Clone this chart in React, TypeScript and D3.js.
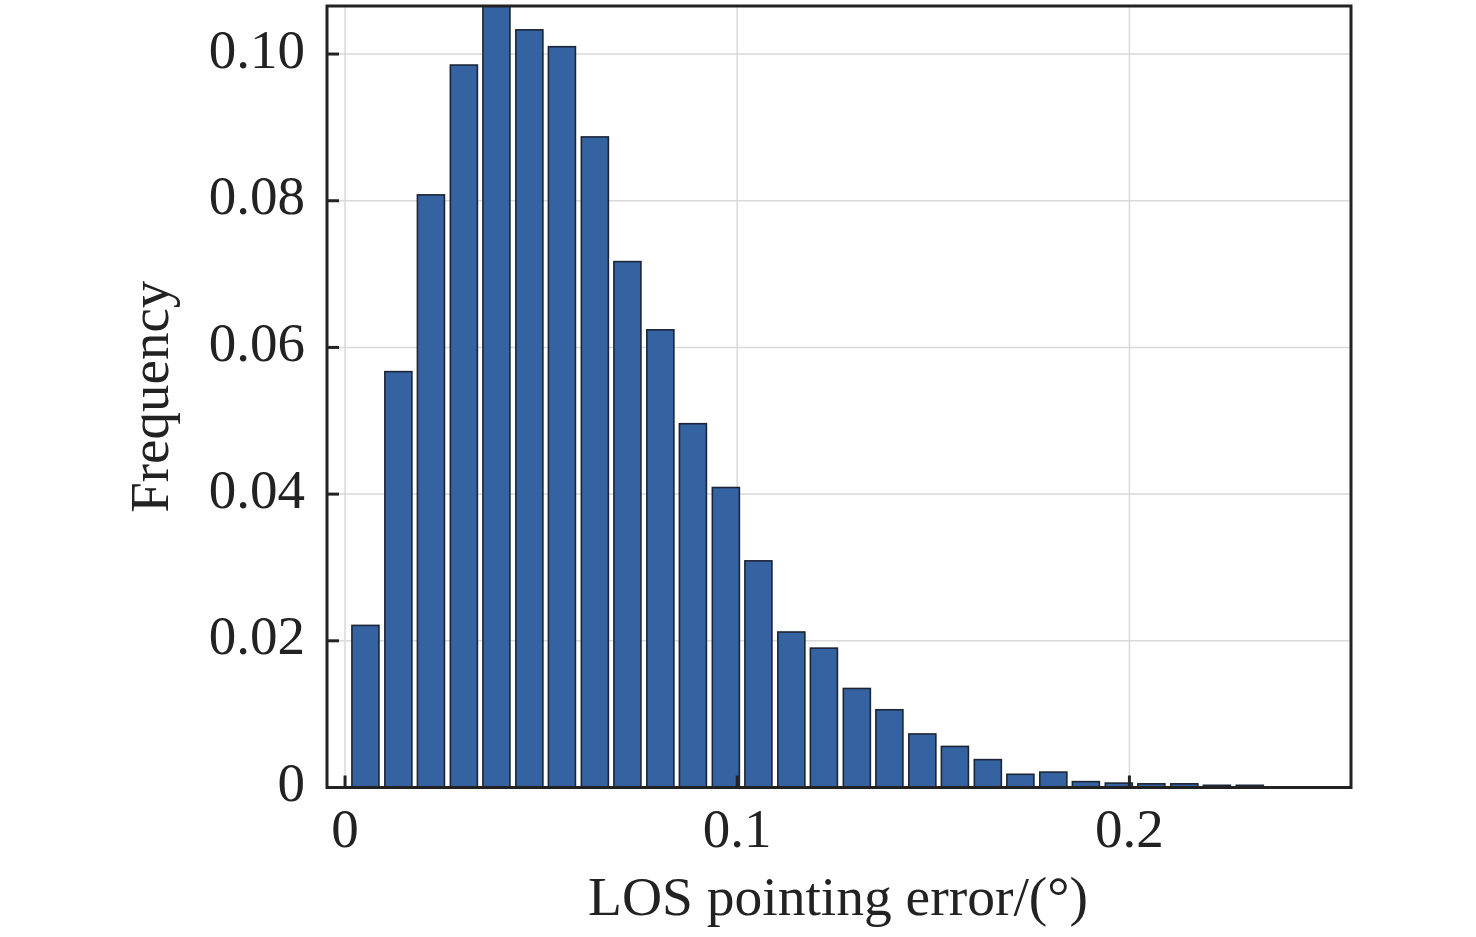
import React, { useEffect, useRef } from 'react';
import * as d3 from 'd3';

// bin centres of the histogram (deg)
const binCenters = [
  0.0052, 0.0136, 0.0219, 0.0303, 0.0386, 0.047, 0.0553, 0.0637, 0.072, 0.0804,
  0.0887, 0.0971, 0.1054, 0.1138, 0.1221, 0.1305, 0.1388, 0.1472, 0.1555, 0.1639,
  0.1722, 0.1806, 0.1889, 0.1973, 0.2056, 0.214, 0.2223, 0.2307,
];

// relative frequency of each bin
const frequencies = [
  0.0221, 0.0567, 0.0808, 0.0985, 0.108, 0.1033, 0.101, 0.0887, 0.0717, 0.0624,
  0.0496, 0.0409, 0.0309, 0.0212, 0.019, 0.0135, 0.0106, 0.0073, 0.0056, 0.0038,
  0.0018, 0.0021, 0.0008, 0.0006, 0.0005, 0.0005, 0.0003, 0.0003,
];

const xTicks = [0, 0.1, 0.2];
const xTickLabels = ['0', '0.1', '0.2'];
const yTicks = [0, 0.02, 0.04, 0.06, 0.08, 0.1];
const yTickLabels = ['0', '0.02', '0.04', '0.06', '0.08', '0.10'];

const App = () => {
  const svgRef = useRef<SVGSVGElement | null>(null);

  useEffect(() => {
    if (!svgRef.current) return;
    document.body.style.margin = '0';

    const svg = d3.select(svgRef.current);
    svg.selectAll('*').remove();

    const width = 1476;
    const height = 937;
    const left = 327, right = 1351, top = 6, bottom = 787.5;
    const font = '"Liberation Serif", "Times New Roman", serif';
    const fontSize = 55;
    const ink = '#222222';

    svg.attr('width', width).attr('height', height);

    const x = d3.scaleLinear().domain([-0.0046, 0.2565]).range([left, right]);
    const y = d3.scaleLinear().domain([0, 0.10655]).range([bottom, top]);

    svg.append('defs').append('clipPath').attr('id', 'plot-clip')
      .append('rect')
      .attr('x', left).attr('y', top)
      .attr('width', right - left).attr('height', bottom - top);

    // grid
    const grid = svg.append('g');
    grid.selectAll('.vgrid')
      .data(xTicks)
      .enter()
      .append('line')
      .attr('x1', d => x(d)).attr('x2', d => x(d))
      .attr('y1', top).attr('y2', bottom)
      .attr('stroke', '#d9d9d9').attr('stroke-width', 1.5);
    grid.selectAll('.hgrid')
      .data(yTicks.slice(1))
      .enter()
      .append('line')
      .attr('x1', left).attr('x2', right)
      .attr('y1', d => y(d)).attr('y2', d => y(d))
      .attr('stroke', '#d9d9d9').attr('stroke-width', 1.5);

    // bars
    const binWidth = binCenters[1] - binCenters[0];
    const barW = x(binWidth * 0.82) - x(0);
    svg.append('g')
      .attr('clip-path', 'url(#plot-clip)')
      .selectAll('.bar')
      .data(frequencies)
      .enter()
      .append('rect')
      .attr('class', 'bar')
      .attr('x', (d, i) => x(binCenters[i]) - barW / 2)
      .attr('y', d => y(d))
      .attr('width', barW)
      .attr('height', d => bottom - y(d))
      .attr('fill', '#3563a2')
      .attr('stroke', '#1c2536')
      .attr('stroke-width', 1.6);

    // inward ticks
    const ticks = svg.append('g').attr('stroke', ink).attr('stroke-width', 3);
    ticks.selectAll('.xt')
      .data(xTicks)
      .enter()
      .append('line')
      .attr('x1', d => x(d)).attr('x2', d => x(d))
      .attr('y1', bottom).attr('y2', bottom - 12);
    ticks.selectAll('.yt')
      .data(yTicks)
      .enter()
      .append('line')
      .attr('x1', left).attr('x2', left + 12)
      .attr('y1', d => y(d)).attr('y2', d => y(d));

    // frame
    svg.append('rect')
      .attr('x', left).attr('y', top)
      .attr('width', right - left).attr('height', bottom - top)
      .attr('fill', 'none')
      .attr('stroke', ink)
      .attr('stroke-width', 3);

    // tick labels
    svg.selectAll('.xl')
      .data(xTicks)
      .enter()
      .append('text')
      .attr('x', d => x(d))
      .attr('y', 847)
      .attr('text-anchor', 'middle')
      .attr('font-family', font)
      .attr('font-size', fontSize)
      .attr('fill', ink)
      .text((d, i) => xTickLabels[i]);

    svg.selectAll('.yl')
      .data(yTicks)
      .enter()
      .append('text')
      .attr('x', 305)
      .attr('y', d => y(d) + 13.5)
      .attr('text-anchor', 'end')
      .attr('font-family', font)
      .attr('font-size', fontSize)
      .attr('fill', ink)
      .text((d, i) => yTickLabels[i]);

    // axis titles
    svg.append('text')
      .attr('x', 838)
      .attr('y', 915)
      .attr('text-anchor', 'middle')
      .attr('font-family', font)
      .attr('font-size', 55.5)
      .attr('fill', ink)
      .text('LOS pointing error/(°)');

    svg.append('text')
      .attr('transform', `translate(168, ${(top + bottom) / 2}) rotate(-90)`)
      .attr('text-anchor', 'middle')
      .attr('font-family', font)
      .attr('font-size', fontSize)
      .attr('fill', ink)
      .text('Frequency');
  }, []);

  return <svg ref={svgRef} style={{ display: 'block' }}></svg>;
};

export default App;
